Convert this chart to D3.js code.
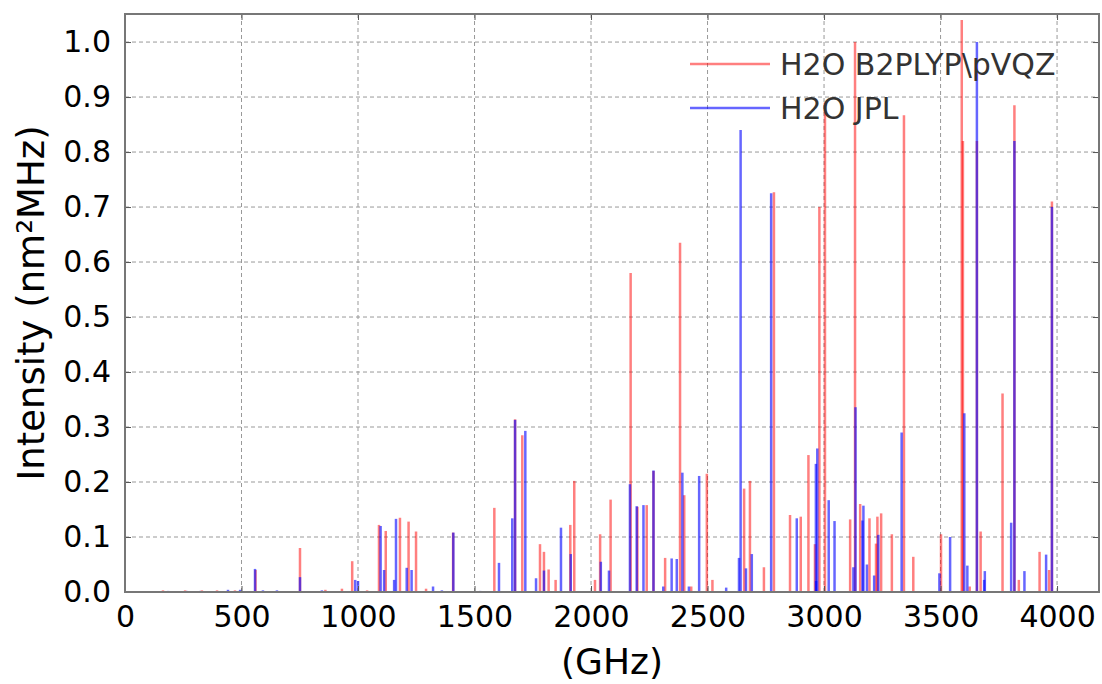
<!DOCTYPE html>
<html>
<head>
<meta charset="utf-8">
<script src="https://cdn.jsdelivr.net/npm/d3@7"></script>
<style>
  body { margin: 0; background: #fff; }
  svg text { font-family: "DejaVu Sans", sans-serif; }
</style>
</head>
<body>
<svg id="spectrum" width="1102" height="684"></svg>
<script>
// B2PLYP lines (GHz, intensity)
const redFreq = [163, 258, 330, 395, 472, 560, 751, 860, 931, 975, 1039, 1090, 1119, 1180, 1217, 1249, 1292, 1408,
  1585, 1674, 1705, 1781, 1798, 1818, 1848, 1911, 1928, 2017, 2039, 2084, 2170, 2199, 2239, 2268, 2318, 2382, 2400,
  2430, 2497, 2521, 2657, 2682, 2742, 2785, 2854, 2900, 2933, 2961, 2980, 3004, 3112, 3133, 3155, 3195, 3223, 3229,
  3245, 3291, 3343, 3383, 3502, 3591, 3596, 3625, 3656, 3672, 3766, 3817, 3836, 3925, 3966, 3978];
const redInt = [0.003, 0.003, 0.003, 0.003, 0.003, 0.04, 0.08, 0.004, 0.006, 0.056, 0.003, 0.122, 0.111, 0.135, 0.128, 0.11, 0.006, 0.108,
  0.153, 0.314, 0.285, 0.087, 0.073, 0.041, 0.022, 0.122, 0.202, 0.022, 0.105, 0.168, 0.58, 0.155, 0.158, 0.22, 0.062, 0.635, 0.176,
  0.01, 0.215, 0.022, 0.188, 0.202, 0.045, 0.727, 0.14, 0.137, 0.249, 0.087, 0.70, 0.89, 0.132, 1.0, 0.16, 0.134, 0.088, 0.137,
  0.143, 0.105, 0.867, 0.064, 0.105, 1.04, 0.82, 0.01, 0.82, 0.11, 0.361, 0.885, 0.022, 0.073, 0.04, 0.71];

// JPL lines (GHz, intensity)
const blueFreq = [185, 266, 322, 442, 494, 558, 592, 652, 751, 845, 988, 1000, 1097, 1112, 1155, 1163, 1209, 1230, 1322, 1360,
  1409, 1524, 1605, 1662, 1674, 1718, 1764, 1798, 1871, 1913, 2042, 2077, 2167, 2196, 2225, 2268, 2310, 2346, 2368, 2392,
  2420, 2464, 2580, 2635, 2642, 2665, 2690, 2773, 2883, 2965, 2971, 2966, 3020, 3045, 3126, 3135, 3165, 3169, 3184, 3215,
  3233, 3333, 3495, 3541, 3602, 3615, 3656, 3687, 3690, 3803, 3817, 3860, 3953, 3978];
const blueInt = [0.002, 0.002, 0.002, 0.004, 0.004, 0.042, 0.003, 0.003, 0.027, 0.003, 0.022, 0.02, 0.12, 0.04, 0.022, 0.133, 0.044, 0.04, 0.01, 0.003,
  0.108, 0.002, 0.053, 0.134, 0.313, 0.293, 0.025, 0.039, 0.117, 0.069, 0.055, 0.039, 0.196, 0.156, 0.158, 0.221, 0.01, 0.061, 0.06, 0.217,
  0.01, 0.211, 0.008, 0.062, 0.84, 0.043, 0.069, 0.725, 0.134, 0.233, 0.261, 0.02, 0.167, 0.129, 0.045, 0.336, 0.13, 0.157, 0.05, 0.03,
  0.104, 0.29, 0.034, 0.1, 0.325, 0.048, 1.0, 0.022, 0.038, 0.126, 0.82, 0.038, 0.068, 0.70];

const xTicks = [0, 500, 1000, 1500, 2000, 2500, 3000, 3500, 4000];
const yTicks = [0, 0.1, 0.2, 0.3, 0.4, 0.5, 0.6, 0.7, 0.8, 0.9, 1.0];
const seriesNames = ['H2O B2PLYP\\pVQZ', 'H2O JPL'];

const svg = d3.select('#spectrum');
const margin = { top: 14, right: 3, bottom: 92, left: 125 };
const width = +svg.attr('width');
const height = +svg.attr('height');
const innerWidth = width - margin.left - margin.right;
const innerHeight = height - margin.top - margin.bottom;

const x = d3.scaleLinear().domain([0, 4180]).range([0, innerWidth]);
const y = d3.scaleLinear().domain([0, 1.051]).range([innerHeight, 0]);

const g = svg.append('g').attr('transform', `translate(${margin.left},${margin.top})`);

// grid
g.append('g').selectAll('line').data(xTicks.slice(1)).enter().append('line')
  .attr('x1', d => x(d)).attr('x2', d => x(d)).attr('y1', 0).attr('y2', innerHeight)
  .attr('stroke', '#999').attr('stroke-width', 1).attr('stroke-dasharray', '4,3');
g.append('g').selectAll('line').data(yTicks.slice(1)).enter().append('line')
  .attr('x1', 0).attr('x2', innerWidth).attr('y1', d => y(d)).attr('y2', d => y(d))
  .attr('stroke', '#999').attr('stroke-width', 1).attr('stroke-dasharray', '4,3');

// lines
const red = redFreq.map((f, i) => ({ f: f, v: redInt[i] }));
const blue = blueFreq.map((f, i) => ({ f: f, v: blueInt[i] }));
g.append('g').selectAll('line').data(red).enter().append('line')
  .attr('x1', d => x(d.f)).attr('x2', d => x(d.f)).attr('y1', y(0)).attr('y2', d => y(d.v))
  .attr('stroke', 'rgba(255,0,0,0.5)').attr('stroke-width', 2.5);
g.append('g').selectAll('line').data(blue).enter().append('line')
  .attr('x1', d => x(d.f)).attr('x2', d => x(d.f)).attr('y1', y(0)).attr('y2', d => y(d.v))
  .attr('stroke', 'rgba(0,0,255,0.6)').attr('stroke-width', 2.5);

// axes (ticks inward, mirrored)
const axFont = g => g.selectAll('text').style('font-size', '30px').attr('fill', '#000');
g.append('g').attr('transform', `translate(0,${innerHeight})`)
  .call(d3.axisBottom(x).tickValues(xTicks).tickFormat(d3.format('d')).tickSizeInner(-6).tickSizeOuter(0).tickPadding(14))
  .call(axFont).call(a => a.select('.domain').remove());
g.append('g')
  .call(d3.axisTop(x).tickValues(xTicks).tickSizeInner(-6).tickSizeOuter(0))
  .call(a => a.select('.domain').remove()).call(a => a.selectAll('text').remove());
g.append('g')
  .call(d3.axisLeft(y).tickValues(yTicks).tickFormat(d3.format('.1f')).tickSizeInner(-6).tickSizeOuter(0).tickPadding(14))
  .call(axFont).call(a => a.select('.domain').remove());
g.append('g').attr('transform', `translate(${innerWidth},0)`)
  .call(d3.axisRight(y).tickValues(yTicks).tickSizeInner(-6).tickSizeOuter(0))
  .call(a => a.select('.domain').remove()).call(a => a.selectAll('text').remove());
g.selectAll('.tick line').attr('stroke', '#555');

g.append('rect').attr('width', innerWidth).attr('height', innerHeight)
  .attr('fill', 'none').attr('stroke', '#777').attr('stroke-width', 2);

// axis titles
svg.append('text').attr('x', margin.left + innerWidth / 2).attr('y', 674)
  .attr('text-anchor', 'middle').style('font-size', '36px').text('(GHz)');
svg.append('text').attr('transform', `translate(44,${margin.top + innerHeight / 2}) rotate(-90)`)
  .attr('text-anchor', 'middle').style('font-size', '37px')
  .text('Intensity (nm²MHz)');

// legend
const legend = svg.append('g').attr('transform', 'translate(690,64)');
const legColors = ['rgba(255,0,0,0.5)', 'rgba(0,0,255,0.6)'];
seriesNames.forEach((name, i) => {
  legend.append('line').attr('x1', 0).attr('x2', 80).attr('y1', i * 44).attr('y2', i * 44)
    .attr('stroke', legColors[i]).attr('stroke-width', 2.5);
  legend.append('text').attr('x', 90).attr('y', i * 44 + 11)
    .style('font-size', '30px').attr('fill', '#333').text(name);
});
</script>
</body>
</html>
